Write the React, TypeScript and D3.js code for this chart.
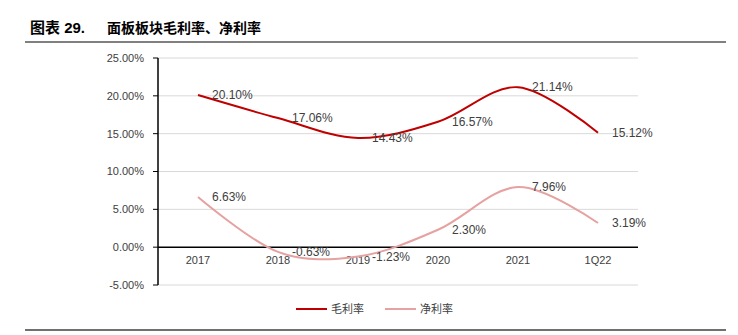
import React from "react";
import * as d3 from "d3";

const categories = ["2017", "2018", "2019", "2020", "2021", "1Q22"];
const grossMargin = [20.10, 17.06, 14.43, 16.57, 21.14, 15.12];
const netMargin = [6.63, -0.63, -1.23, 2.30, 7.96, 3.19];
const yTicks = [-5, 0, 5, 10, 15, 20, 25];
const seriesNames = ["毛利率", "净利率"];
const seriesColors = ["#C00000", "#E6A1A1"];

export default function App() {
  const W = 738, H = 335;
  const left = 158, right = 638, top = 58, bottom = 285;
  const x = d3.scaleBand<string>().domain(categories).range([left, right]);
  const y = d3.scaleLinear().domain([-5, 25]).range([bottom, top]);
  const cx = (c: string) => (x(c) as number) + x.bandwidth() / 2;
  const line = d3
    .line<number>()
    .x((_, i) => cx(categories[i]))
    .y((v) => y(v))
    .curve(d3.curveCardinal.tension(0));
  const series = [grossMargin, netMargin];
  const font = "'Liberation Sans', Arial, sans-serif";
  const cjk = "'Noto Sans CJK SC', sans-serif";
  return (
    <svg
      width={W}
      height={H}
      style={{ position: "absolute", left: 0, top: 0 }}
      viewBox={`0 0 ${W} ${H}`}
    >
      <rect width={W} height={H} fill="#fff" />
      <text x={30} y={33} fontFamily={font} fontWeight="bold" fontSize={15} fill="#000">
        <tspan fontFamily={cjk}>图表</tspan> 29.
      </text>
      <text x={107} y={33} fontFamily={cjk} fontWeight="bold" fontSize={14} fill="#000">
        面板板块毛利率、净利率
      </text>
      <line x1={25} x2={726} y1={42} y2={42} stroke="#808080" strokeWidth={2} />
      {yTicks.map((t) => (
        <g key={t}>
          {t !== 0 && (
            <line x1={left} x2={right} y1={y(t)} y2={y(t)} stroke="#D9D9D9" strokeWidth={1} />
          )}
          <line x1={left - 5} x2={left} y1={y(t)} y2={y(t)} stroke="#000" strokeWidth={1} />
          <text
            x={144}
            y={y(t)}
            dy="0.35em"
            textAnchor="end"
            fontFamily={font}
            fontSize={11}
            fill="#404040"
          >
            {t.toFixed(2) + "%"}
          </text>
        </g>
      ))}
      <line x1={left} x2={left} y1={top} y2={bottom} stroke="#000" strokeWidth={1.5} />
      <line x1={left} x2={right} y1={y(0)} y2={y(0)} stroke="#000" strokeWidth={1.5} />
      {categories.map((c) => (
        <text
          key={c}
          x={cx(c)}
          y={260}
          dy="0.35em"
          textAnchor="middle"
          fontFamily={font}
          fontSize={11}
          fill="#404040"
        >
          {c}
        </text>
      ))}
      {series.map((s, si) => (
        <path key={si} d={line(s) || ""} fill="none" stroke={seriesColors[si]} strokeWidth={2} />
      ))}
      {series.map((s, si) =>
        s.map((v, i) => (
          <text
            key={si + "-" + i}
            x={cx(categories[i]) + 14}
            y={y(v)}
            dy="0.35em"
            fontFamily={font}
            fontSize={12}
            fill="#404040"
          >
            {v.toFixed(2) + "%"}
          </text>
        ))
      )}
      {seriesNames.map((n, i) => (
        <g key={n} transform={`translate(${296 + i * 89},309)`}>
          <line x1={0} x2={31} y1={0} y2={0} stroke={seriesColors[i]} strokeWidth={2} />
          <text x={35} y={0} dy="0.35em" fontFamily={cjk} fontSize={11} fill="#404040">
            {n}
          </text>
        </g>
      ))}
      <line x1={25} x2={726} y1={330} y2={330} stroke="#404040" strokeWidth={1.5} />
    </svg>
  );
}
